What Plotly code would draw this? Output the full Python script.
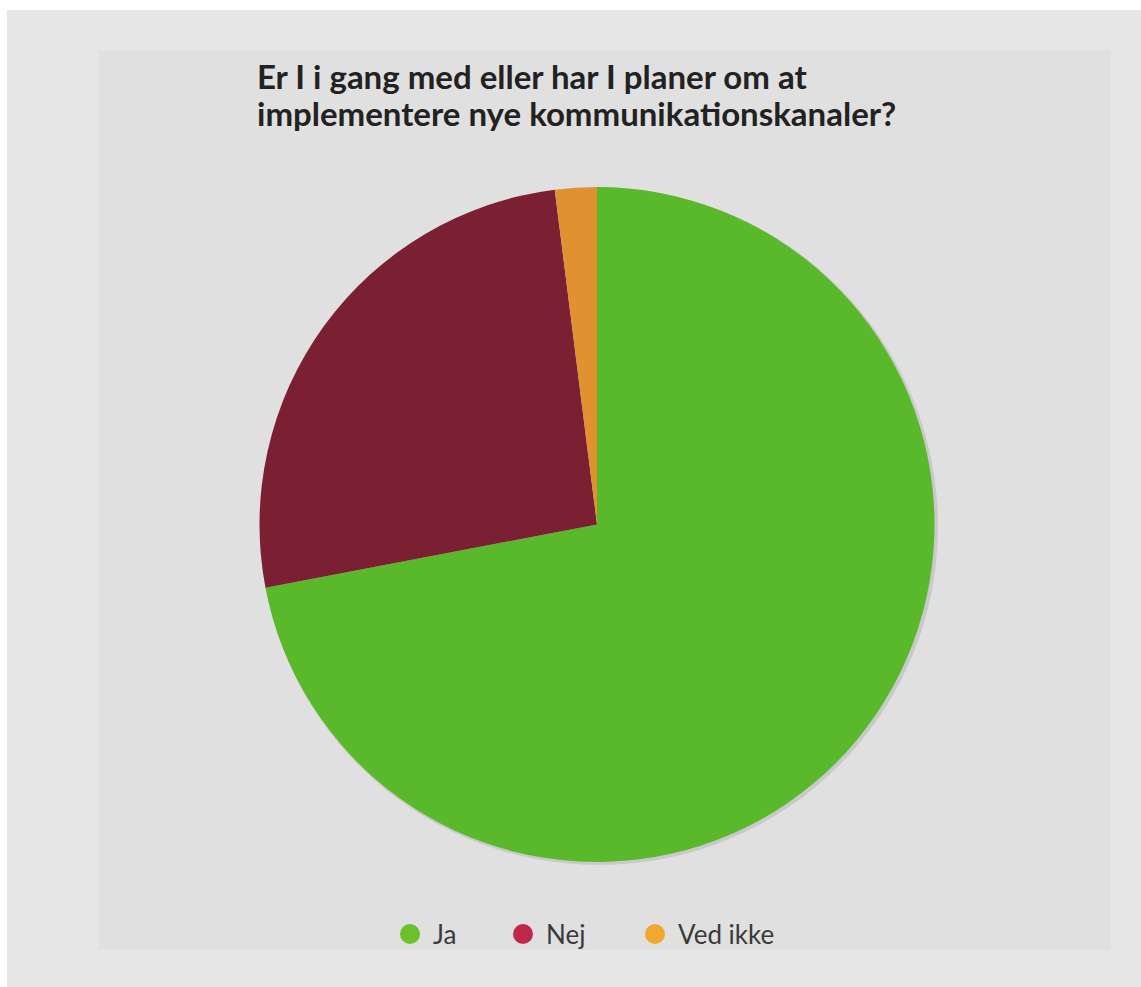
import plotly.graph_objects as go

labels = ["Ja", "Nej", "Ved ikke"]
values = [72, 26, 2]
slice_colors = ["#5ab82b", "#7b1f33", "#df922f"]
legend_colors = ["#6cc02a", "#c0284a", "#f0a830"]
title_lines = ["Er I i gang med eller har I planer om at",
               "implementere nye kommunikationskanaler?"]

W, H = 1141, 987

def px(x):
    return x / W

def py(y):
    return 1 - y / H

fig = go.Figure()
fig.add_trace(go.Pie(
    labels=labels, values=values, sort=False, direction="clockwise", rotation=0,
    marker=dict(colors=slice_colors, line=dict(width=0)),
    textinfo="none", hoverinfo="label+percent", showlegend=False,
    domain=dict(x=[px(259), px(935)], y=[py(862), py(187)]),
))

shapes = [
    dict(type="rect", xref="paper", yref="paper", x0=px(7), x1=1, y0=0, y1=py(10),
         fillcolor="#e6e6e6", line=dict(width=0), layer="below"),
    dict(type="rect", xref="paper", yref="paper", x0=px(98), x1=px(1111), y0=py(950), y1=py(50),
         fillcolor="#e0e0e0", line=dict(width=0), layer="below"),
    dict(type="circle", xref="paper", yref="paper", x0=px(260), x1=px(938), y0=py(865), y1=py(188),
         fillcolor="rgba(0,0,0,0.10)", line=dict(width=0), layer="below"),
]

annotations = []
for i, line in enumerate(title_lines):
    annotations.append(dict(text="<b>" + line + "</b>", xref="paper", yref="paper",
         x=px(255), y=py(54 + 37 * i), xanchor="left", yanchor="top", align="left", showarrow=False,
         font=dict(family="Lato, Open Sans, sans-serif", size=33, color="#222222")))

leg_x = [410, 523, 655]
leg_y = 934
for lab, col, lx in zip(labels, legend_colors, leg_x):
    r = 10
    shapes.append(dict(type="circle", xref="paper", yref="paper",
                       x0=px(lx - r), x1=px(lx + r), y0=py(leg_y + r), y1=py(leg_y - r),
                       fillcolor=col, line=dict(width=0)))
    annotations.append(dict(text=lab, xref="paper", yref="paper", x=px(lx + 21), y=py(leg_y),
                            xanchor="left", yanchor="middle", showarrow=False,
                            font=dict(family="Lato, Open Sans, sans-serif", size=26, color="#3a3a3a")))

fig.update_layout(
    width=W, height=H, margin=dict(l=0, r=0, t=0, b=0),
    paper_bgcolor="#ffffff", plot_bgcolor="#ffffff",
    shapes=shapes, annotations=annotations, showlegend=False,
)

fig.write_html("out.html")
